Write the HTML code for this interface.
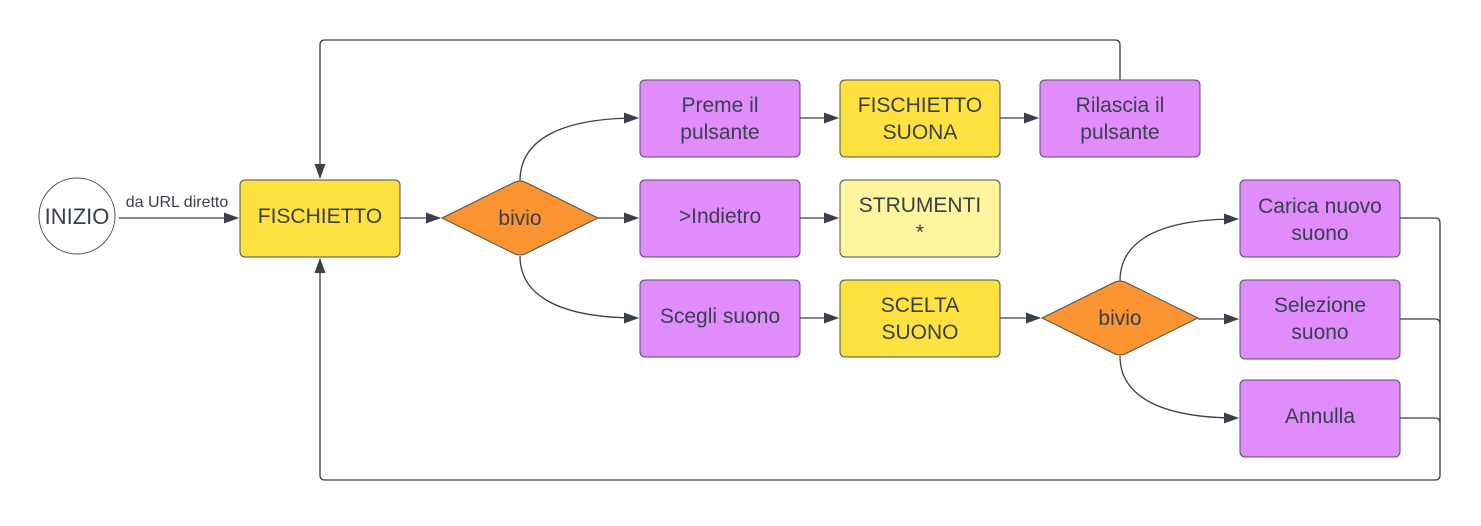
<!DOCTYPE html>
<html><head><meta charset="utf-8"><style>
body{margin:0;background:#fff}
svg text{font-family:"Liberation Sans",sans-serif;fill:#39404b}
</style></head><body>
<svg width="1481" height="521" viewBox="0 0 1481 521" xmlns="http://www.w3.org/2000/svg">
<defs><marker id="a" markerWidth="15" markerHeight="11" refX="14" refY="5.5" orient="auto" markerUnits="userSpaceOnUse"><path d="M0,0L15,5.5L0,11Z" fill="#39404b"/></marker></defs>
<g fill="none" stroke="#39404b" stroke-width="1.3">
<path d="M119,218H238" marker-end="url(#a)"/>
<path d="M400,218H440" marker-end="url(#a)"/>
<path d="M1120,80V45Q1120,40 1115,40H325Q320,40 320,45V178" marker-end="url(#a)"/>
<path d="M1400,218H1435Q1440,218 1440,223V475Q1440,480 1435,480H325Q320,480 320,475V259" marker-end="url(#a)"/>
<path d="M1400,319H1435Q1440,319 1440,324"/>
<path d="M1400,418H1435Q1440,418 1440,423"/>
<path d="M520,181C520,140 560,118 638,118" marker-end="url(#a)"/>
<path d="M598,218H638" marker-end="url(#a)"/>
<path d="M520,256C520,296 560,318 638,318" marker-end="url(#a)"/>
<path d="M800,118H838" marker-end="url(#a)"/>
<path d="M1000,118H1038" marker-end="url(#a)"/>
<path d="M800,218H838" marker-end="url(#a)"/>
<path d="M800,318H838" marker-end="url(#a)"/>
<path d="M1000,318H1040" marker-end="url(#a)"/>
<path d="M1120,281C1120,240 1160,219 1238,219" marker-end="url(#a)"/>
<path d="M1198,319H1238" marker-end="url(#a)"/>
<path d="M1120,356C1120,396 1160,418 1238,418" marker-end="url(#a)"/>
</g>
<g stroke="#4a4f58" stroke-width="1">
<circle cx="77" cy="216" r="38" fill="#fff"/>
<rect x="240" y="180" width="160" height="77" rx="5" fill="#ffe23f"/>
<path d="M442,218L515,182Q520,180 525,182L598,218L525,254Q520,256 515,254Z" fill="#fb9431"/>
<path d="M1042,318L1115,282Q1120,280 1125,282L1198,318L1125,354Q1120,356 1115,354Z" fill="#fb9431"/>
<rect x="640" y="80" width="160" height="77" rx="5" fill="#e08cfd"/>
<rect x="840" y="80" width="160" height="77" rx="5" fill="#ffe23f"/>
<rect x="1040" y="80" width="160" height="77" rx="5" fill="#e08cfd"/>
<rect x="640" y="180" width="160" height="77" rx="5" fill="#e08cfd"/>
<rect x="840" y="180" width="160" height="77" rx="5" fill="#fff59e"/>
<rect x="640" y="280" width="160" height="77" rx="5" fill="#e08cfd"/>
<rect x="840" y="280" width="160" height="77" rx="5" fill="#ffe23f"/>
<rect x="1240" y="180" width="160" height="77" rx="5" fill="#e08cfd"/>
<rect x="1240" y="280" width="160" height="79" rx="5" fill="#e08cfd"/>
<rect x="1240" y="380" width="160" height="77" rx="5" fill="#e08cfd"/>
</g>
<g font-size="21" text-anchor="middle">
<text x="77" y="224" font-size="22">INIZIO</text>
<text x="177" y="207" font-size="16">da URL diretto</text>
<text x="320" y="223">FISCHIETTO</text>
<text x="520" y="225">bivio</text>
<text x="1120" y="325">bivio</text>
<text x="720" y="112">Preme il</text><text x="720" y="139">pulsante</text>
<text x="920" y="112">FISCHIETTO</text><text x="920" y="139">SUONA</text>
<text x="1120" y="112">Rilascia il</text><text x="1120" y="139">pulsante</text>
<text x="720" y="223">&gt;Indietro</text>
<text x="920" y="212">STRUMENTI</text><text x="920" y="239">*</text>
<text x="720" y="323">Scegli suono</text>
<text x="920" y="312">SCELTA</text><text x="920" y="339">SUONO</text>
<text x="1320" y="213">Carica nuovo</text><text x="1320" y="240">suono</text>
<text x="1320" y="312">Selezione</text><text x="1320" y="339">suono</text>
<text x="1320" y="423">Annulla</text>
</g>
</svg>
</body></html>
